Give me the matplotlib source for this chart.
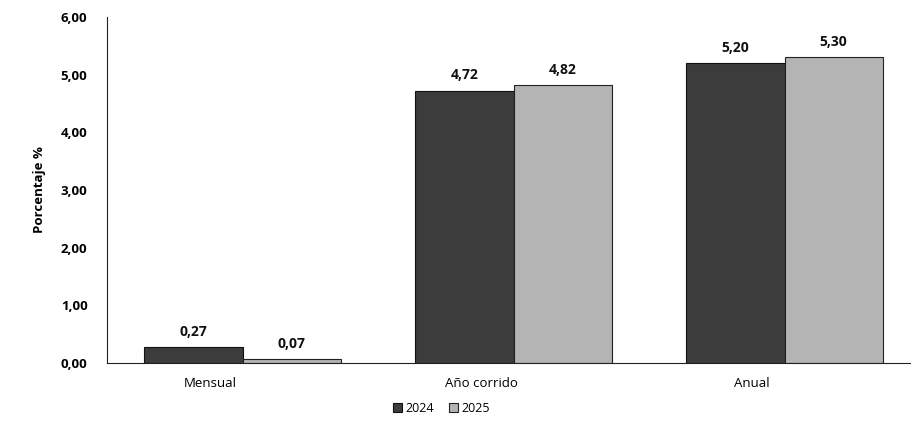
import matplotlib
matplotlib.use("Agg")
import matplotlib.pyplot as plt
import numpy as np

categories = ["Mensual", "Año corrido", "Anual"]
series_names = ["2024", "2025"]
values_2024 = [0.27, 4.72, 5.20]
values_2025 = [0.07, 4.82, 5.30]
value_labels_2024 = ["0,27", "4,72", "5,20"]
value_labels_2025 = ["0,07", "4,82", "5,30"]
yticks = [0, 1, 2, 3, 4, 5, 6]
ytick_labels = ["0,00", "1,00", "2,00", "3,00", "4,00", "5,00", "6,00"]

plt.rcParams['font.family'] = ['Open Sans', 'DejaVu Sans']

fig = plt.figure(figsize=(9.12, 4.25), dpi=100)
ax = fig.add_axes([0.1173, 0.146, 0.8827, 0.814])

x = np.arange(len(categories))
w = 0.362
b1 = ax.bar(x - w/2, values_2024, w, color="#3c3c3c", edgecolor="#111111", linewidth=0.8, label=series_names[0])
b2 = ax.bar(x + w/2, values_2025, w, color="#b4b4b4", edgecolor="#222222", linewidth=0.8, label=series_names[1])

for xi, v, t in zip(x - w/2, values_2024, value_labels_2024):
    ax.annotate(t, (xi, v), xytext=(0, 6), textcoords="offset points", ha="center", va="bottom",
                fontsize=10, fontweight="bold", color="#111111")
for xi, v, t in zip(x + w/2, values_2025, value_labels_2025):
    ax.annotate(t, (xi, v), xytext=(0, 6), textcoords="offset points", ha="center", va="bottom",
                fontsize=10, fontweight="bold", color="#111111")

ax.set_xlim(-0.5, 2.47)
ax.set_ylim(0, 6)
ax.set_yticks(yticks)
ax.set_yticklabels(ytick_labels, fontsize=9.5, fontweight="bold")
ax.set_xticks(x - 0.12)
ax.set_xticklabels(categories, fontsize=9.5)
ax.tick_params(axis="both", length=0)
ax.tick_params(axis="y", pad=14)
ax.tick_params(axis="x", pad=10)
ax.set_ylabel("Porcentaje %", fontsize=9.5, fontweight="bold", labelpad=11)
ax.spines["top"].set_visible(False)
ax.spines["right"].set_visible(False)
ax.spines["left"].set_color("#222222")
ax.spines["bottom"].set_color("#222222")

fig.legend(handles=[b1, b2], labels=series_names, loc="center", bbox_to_anchor=(0.484, 0.04),
           ncol=2, frameon=False, fontsize=9, handlelength=0.7, handleheight=0.7,
           handletextpad=0.3, columnspacing=1.2)

fig.savefig("out.png", dpi=100)
